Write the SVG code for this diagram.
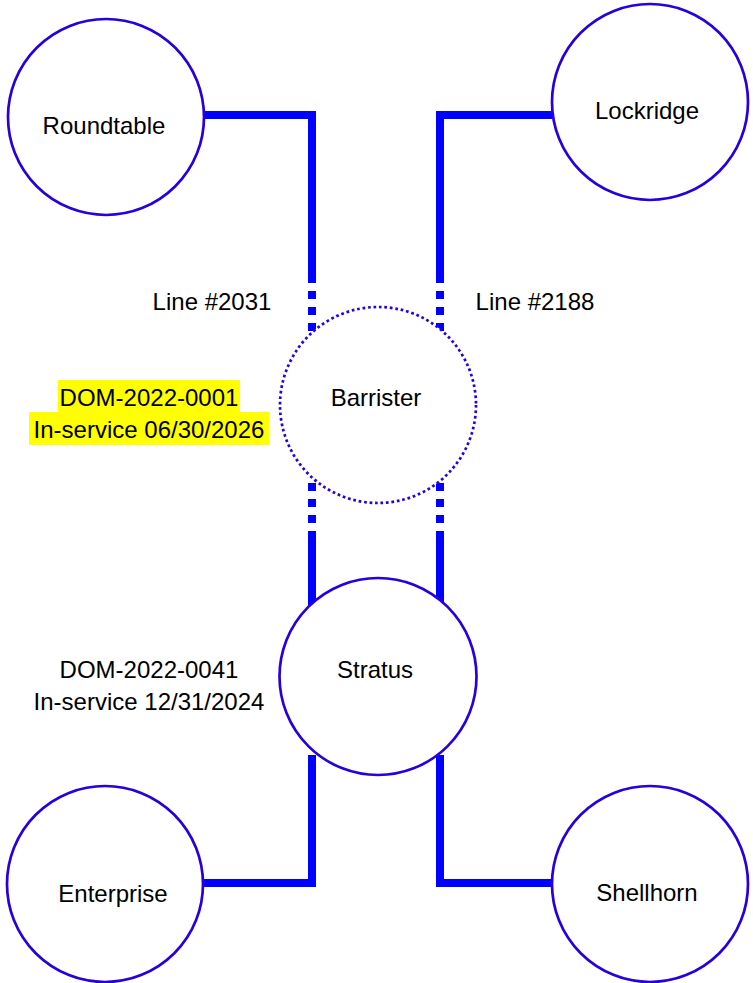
<svg xmlns="http://www.w3.org/2000/svg" width="753" height="983" viewBox="0 0 753 983">
<style>
.node{fill:#fff;stroke:#2800E0;stroke-width:2.7}
.prop{fill:#fff;stroke:#2800E0;stroke-width:2.7;stroke-dasharray:2.7 2.8}
.lbl{font-family:"Liberation Sans",Arial,sans-serif;font-size:24px;fill:#000;text-anchor:middle}
.wire{fill:none;stroke:#0000FF;stroke-width:8;stroke-linejoin:miter;stroke-linecap:butt}
.dash{stroke-dasharray:8 8}
.hl{fill:#FFFF00}
</style>
<rect width="753" height="983" fill="#fff"/>
<g id="connectors">
<path class="wire" d="M200,115 H312 V283"/>
<path class="wire dash" d="M312,291 V331"/>
<path class="wire" d="M552,115 H440 V283"/>
<path class="wire dash" d="M440,291 V331"/>
<path class="wire dash" d="M312,483 V523"/>
<path class="wire" d="M312,531 V610"/>
<path class="wire dash" d="M440,483 V523"/>
<path class="wire" d="M440,531 V610"/>
<path class="wire" d="M312,755 V883 H200"/>
<path class="wire" d="M440,755 V883 H552"/>
</g>
<g id="roundtable">
<circle class="node" cx="106" cy="117" r="98"/>
<text class="lbl" x="104" y="134">Roundtable</text>
</g>
<g id="lockridge">
<circle class="node" cx="650" cy="102" r="98"/>
<text class="lbl" x="647" y="119">Lockridge</text>
</g>
<g id="barrister">
<circle class="prop" cx="378" cy="405" r="98"/>
<text class="lbl" x="376" y="406">Barrister</text>
</g>
<g id="stratus">
<circle class="node" cx="378" cy="676.5" r="98.5"/>
<text class="lbl" x="375" y="678">Stratus</text>
</g>
<g id="enterprise">
<circle class="node" cx="105" cy="884" r="98"/>
<text class="lbl" x="113" y="902">Enterprise</text>
</g>
<g id="shellhorn">
<circle class="node" cx="650" cy="884" r="98"/>
<text class="lbl" x="647" y="901">Shellhorn</text>
</g>
<g id="line-labels">
<text class="lbl" x="212" y="310">Line #2031</text>
<text class="lbl" x="535" y="310">Line #2188</text>
</g>
<g id="barrister-note">
<rect class="hl" x="58" y="380" width="182" height="32"/>
<rect class="hl" x="29" y="412" width="240" height="33"/>
<text class="lbl" x="149" y="406">DOM-2022-0001</text>
<text class="lbl" x="149" y="438">In-service 06/30/2026</text>
</g>
<g id="stratus-note">
<text class="lbl" x="149" y="678">DOM-2022-0041</text>
<text class="lbl" x="149" y="710">In-service 12/31/2024</text>
</g>
</svg>
